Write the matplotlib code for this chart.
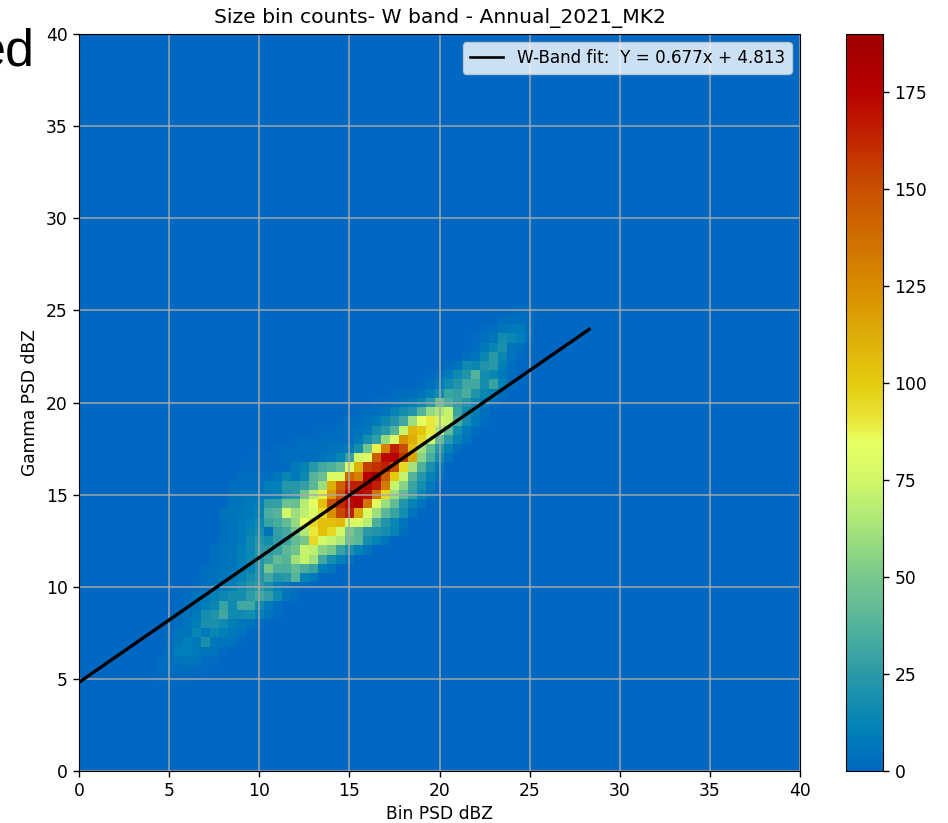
import numpy as np
import matplotlib
matplotlib.use("Agg")
import matplotlib.pyplot as plt
from matplotlib.colors import LinearSegmentedColormap

W, H = 948, 823

title = "Size bin counts- W band - Annual_2021_MK2"
x_label = "Bin PSD dBZ"
y_label = "Gamma PSD dBZ"
legend_label = "W-Band fit:  Y = 0.677x + 4.813"
stray_text = "ed"
x_ticks = [0, 5, 10, 15, 20, 25, 30, 35, 40]
y_ticks = [0, 5, 10, 15, 20, 25, 30, 35, 40]
cbar_ticks = [0, 25, 50, 75, 100, 125, 150, 175]

fit_x = [0, 28.3]
fit_y = [4.813, 23.97]

bin_width = 0.5
first_row = 10
# first x-bin of each y-bin row, starting at y-bin 10 (y = 5 dBZ)
row_first_col = [8, 9, 9, 10, 10, 10, 11, 11, 11, 12, 13, 14, 14, 15, 15, 16, 16, 16, 16, 17, 17,
                 17, 18, 19, 20, 22, 24, 27, 29, 31, 33, 35, 38, 39, 41, 43, 44, 44, 45, 46, 48]
row_counts = [
    [1, 2, 2, 2, 2, 1],
    [2, 3, 3, 3, 2, 2],
    [2, 4, 6, 7, 6, 3, 2],
    [3, 10, 10, 8, 6, 5, 2],
    [4, 6, 10, 7, 20, 7, 6, 5, 2],
    [2, 5, 6, 14, 8, 14, 10, 7, 5, 2],
    [3, 6, 10, 20, 20, 16, 10, 7, 5, 2],
    [3, 5, 8, 18, 22, 32, 16, 16, 18, 10, 5, 2],
    [2, 4, 6, 10, 14, 30, 16, 32, 32, 16, 8, 3],
    [3, 5, 8, 10, 14, 18, 18, 26, 32, 28, 16, 6, 3],
    [2, 4, 5, 7, 10, 16, 22, 26, 18, 10, 6, 4, 2],
    [4, 5, 6, 8, 12, 18, 22, 32, 22, 25, 38, 12, 8],
    [3, 4, 6, 7, 10, 12, 22, 50, 35, 35, 42, 35, 30, 10, 6],
    [4, 5, 7, 10, 15, 22, 30, 42, 38, 62, 72, 62, 32, 18, 12, 5],
    [4, 5, 6, 10, 15, 25, 25, 30, 40, 48, 72, 70, 55, 50, 30, 20, 12, 6],
    [4, 5, 8, 15, 22, 18, 26, 30, 42, 50, 95, 75, 72, 65, 45, 40, 18, 12, 6],
    [3, 5, 8, 12, 18, 5, 28, 32, 50, 65, 90, 105, 95, 75, 50, 40, 25, 22, 18, 12, 4],
    [3, 5, 8, 10, 15, 30, 34, 42, 58, 85, 95, 105, 105, 108, 78, 78, 68, 35, 22, 14, 6],
    [5, 6, 7, 8, 12, 35, 38, 76, 60, 70, 78, 95, 125, 152, 165, 115, 80, 60, 40, 30, 18, 6],
    [5, 6, 8, 10, 28, 28, 46, 45, 68, 84, 105, 150, 162, 172, 175, 135, 82, 60, 42, 22, 12, 5],
    [4, 5, 6, 6, 8, 10, 22, 25, 50, 68, 88, 120, 148, 178, 175, 170, 135, 95, 60, 42, 28, 14, 5],
    [4, 3, 3, 3, 10, 10, 24, 24, 28, 40, 60, 112, 142, 165, 165, 178, 165, 132, 72, 55, 30, 18, 8],
    [3, 3, 3, 3, 6, 14, 8, 15, 38, 45, 80, 78, 140, 130, 175, 190, 145, 100, 72, 38, 24, 12, 5],
    [2, 2, 2, 2, 2, 8, 12, 24, 32, 36, 42, 80, 110, 155, 160, 165, 150, 95, 62, 36, 20, 8],
    [2, 2, 2, 3, 3, 3, 4, 5, 8, 12, 28, 75, 80, 145, 172, 175, 158, 115, 55, 35, 18, 6],
    [2, 2, 3, 3, 3, 4, 5, 6, 8, 18, 48, 88, 130, 165, 150, 105, 62, 42, 25, 12, 4],
    [2, 2, 2, 3, 3, 3, 3, 8, 18, 28, 58, 78, 122, 112, 96, 75, 42, 25, 12, 5],
    [2, 2, 3, 4, 5, 8, 18, 25, 38, 72, 108, 102, 90, 65, 42, 18, 8, 3],
    [2, 3, 3, 5, 8, 15, 22, 32, 60, 84, 90, 76, 72, 35, 18, 8, 3],
    [2, 3, 4, 6, 12, 18, 22, 38, 58, 64, 72, 30, 16, 10, 4],
    [2, 3, 4, 6, 8, 14, 25, 45, 35, 28, 22, 14, 8, 3],
    [2, 3, 4, 6, 10, 16, 30, 28, 35, 22, 14, 10, 3],
    [2, 4, 8, 16, 22, 32, 32, 18, 30, 10, 3],
    [2, 4, 8, 16, 22, 38, 18, 14, 8, 3],
    [3, 6, 16, 14, 22, 25, 10, 3],
    [3, 6, 14, 25, 14, 6, 2],
    [3, 8, 14, 20, 6, 3],
    [2, 4, 6, 18, 14, 10, 3],
    [2, 3, 6, 8, 8, 3],
    [1, 3, 3, 3, 2],
    [1, 2, 2, 1, 1],
]

cmap_values = [0, 10, 25, 40, 50, 65, 75, 85, 92, 100, 125, 150, 165, 175, 190]
cmap_colors = ["#0067c2", "#0080b8", "#2a9aa8", "#5cb898", "#78c88c", "#b0e878", "#d0f868",
               "#e8ff60", "#e8e030", "#e4cc10", "#d88c00", "#c85000", "#c02000", "#b80000", "#a00000"]

grid = np.zeros((81, 81))
for r, (c0, vals) in enumerate(zip(row_first_col, row_counts)):
    grid[first_row + r, c0:c0 + len(vals)] = vals

vmax = grid.max()
cmap = LinearSegmentedColormap.from_list(
    "psd", [(v / vmax, c) for v, c in zip(cmap_values, cmap_colors)], N=512)

fs = 12.3
fig = plt.figure(figsize=(W / 100, H / 100), dpi=100)
ax = fig.add_axes([79 / W, 1 - 771 / H, 721 / W, 737 / H])
half = bin_width / 2
im = ax.imshow(grid, origin="lower", cmap=cmap, vmin=0, vmax=vmax, aspect="auto",
               interpolation="nearest",
               extent=(-half, 80 * bin_width + half, -half, 80 * bin_width + half))
ax.set_xlim(0, 40)
ax.set_ylim(0, 40)
ax.set_xticks(x_ticks)
ax.set_yticks(y_ticks)
ax.tick_params(labelsize=fs, length=4.2, width=1.0, pad=4)
ax.grid(True, color="#aaaaaa", lw=1.1, alpha=0.95)
ax.plot(fit_x, fit_y, color="black", lw=2.4, label=legend_label)
ax.set_title(title, fontsize=14.6, pad=8)
ax.set_xlabel(x_label, fontsize=fs, labelpad=3.5)
ax.set_ylabel(y_label, fontsize=fs, labelpad=4.5)
leg = ax.legend(loc="upper right", fontsize=12.1)
leg.get_lines()[0].set_linewidth(1.9)

cax = fig.add_axes([846 / W, 1 - 771 / H, 37 / W, 737 / H])
cb = fig.colorbar(im, cax=cax, ticks=cbar_ticks)
cb.ax.tick_params(labelsize=fs, length=4.2, width=1.0, pad=4)

fig.text(35 / W, 1 - 65 / H, stray_text, ha="right", va="baseline",
         fontsize=37.5, family="Liberation Sans", color="black")

fig.savefig("out.png", dpi=100)
